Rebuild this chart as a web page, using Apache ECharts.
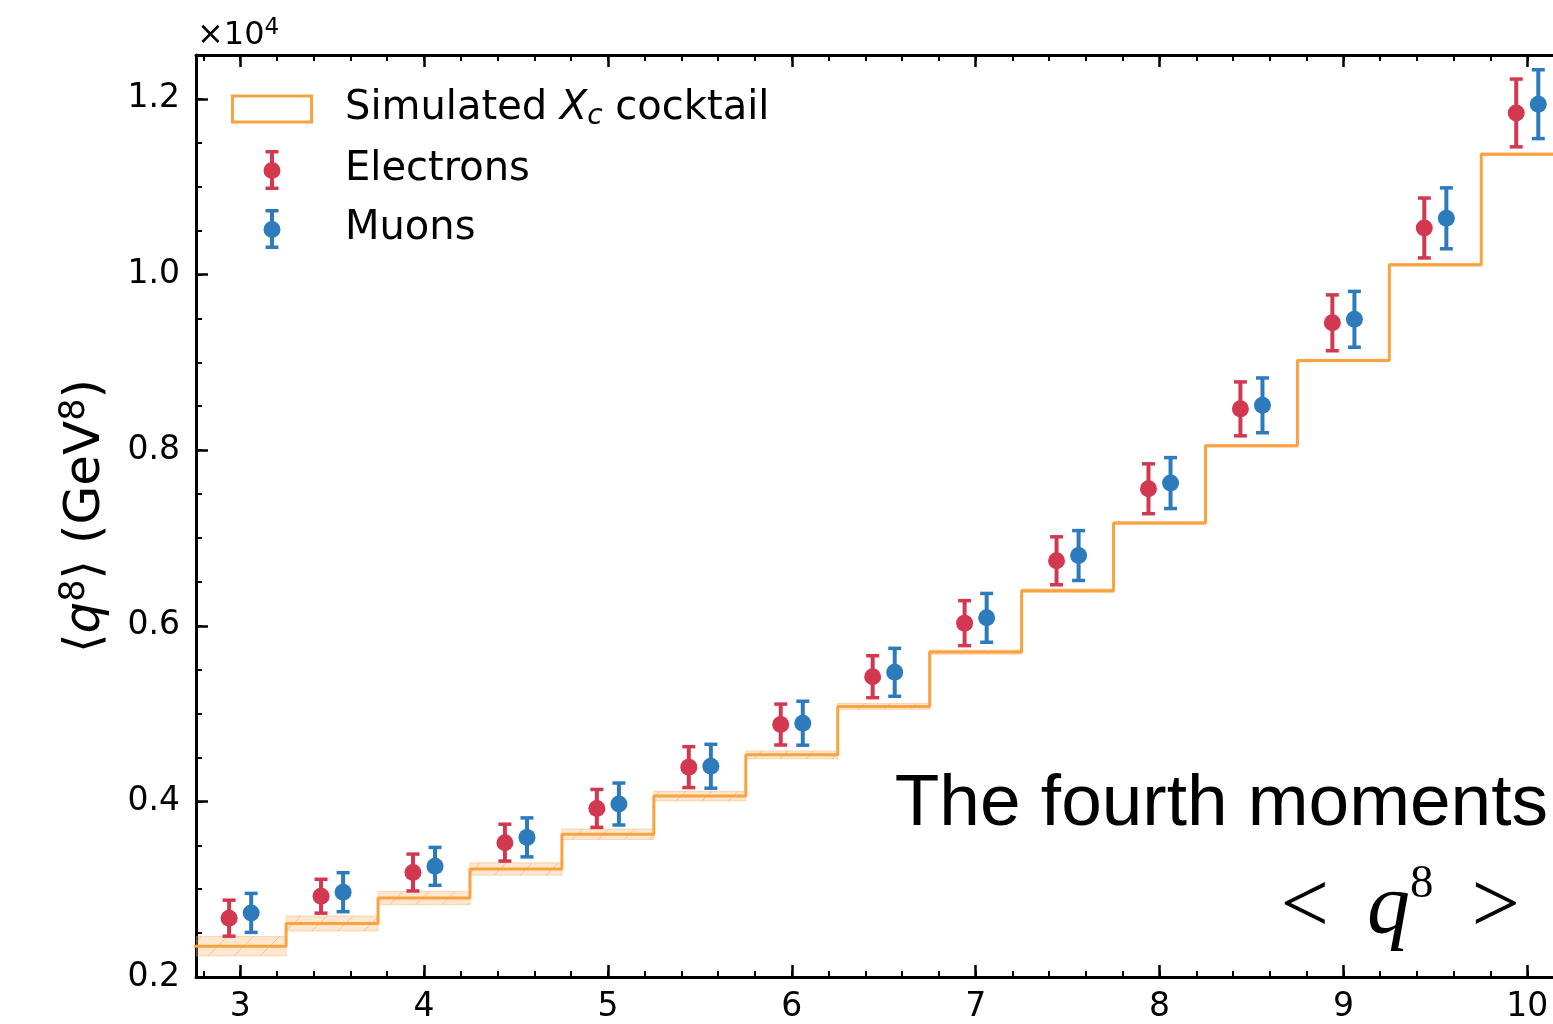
<!DOCTYPE html>
<html><head><meta charset="utf-8">
<script src="https://cdn.jsdelivr.net/npm/echarts@6/dist/echarts.min.js"></script>
<style>html,body{margin:0;padding:0;background:#fff}#c{width:1553px;height:1024px}</style>
</head><body><div id="c"></div>
<script>
// ---- data ----
const binCenters = [3,3.5,4,4.5,5,5.5,6,6.5,7,7.5,8,8.5,9,9.5,10];
const binHalfWidth = 0.25;
const cocktail    = [2350,2610,2900,3230,3625,4060,4530,5080,5700,6400,7170,8050,9020,10110,11370];
const cocktailErr = [110,85,75,70,60,55,45,35,25,20,15,15,15,15,15];
const electrons    = [2670,2920,3190,3530,3920,4390,4875,5420,6030,6740,7560,8470,9450,10530,11840];
const electronsErr = [205,193,210,210,216,233,233,239,256,273,284,307,318,341,386];
const muons    = [2730,2966,3260,3590,3970,4400,4890,5470,6090,6800,7625,8510,9490,10640,11940];
const muonsErr = [222,222,216,222,239,250,250,273,278,284,290,312,318,347,392];
const xMajorTicks = [3,4,5,6,7,8,9,10];
const yMajorTicks = [2000,4000,6000,8000,10000,12000];
const pointOffset = 0.06;

// ---- styles ----
const ORANGE = '#f9a240';
const RED = '#d2384f';
const BLUE = '#2d7bbd';
const FONT = 'DejaVu Sans';
const X_MIN = 2.76, X_MAX = 10.14, Y_MIN = 2000, Y_MAX = 12500;

const xMinorTicks = [];
for (let k = 14; k <= 50; k++) xMinorTicks.push(Math.round(k * 2) / 10);
const yMinorTicks = [];
for (let v = 2000; v <= 12500; v += 500) yMinorTicks.push(v);

function xAxisDef(position, ticks, len, width, showLine, showLabel) {
  return {
    type: 'value', position, min: X_MIN, max: X_MAX, gridIndex: 0,
    splitLine: { show: false },
    axisLine: { show: showLine, onZero: false, lineStyle: { color: '#000', width: 3 } },
    axisTick: { show: true, inside: true, length: len, customValues: ticks, lineStyle: { color: '#000', width: width } },
    axisLabel: showLabel ? { show: true, customValues: xMajorTicks, margin: 14, color: '#000', fontFamily: FONT, fontSize: 33,
      formatter: v => String(Math.round(v)) } : { show: false },
    minorTick: { show: false }
  };
}
function yAxisDef(ticks, len, width, showLine, showLabel) {
  const a = {
    type: 'value', position: 'left', min: Y_MIN, max: Y_MAX, gridIndex: 0,
    splitLine: { show: false },
    axisLine: { show: showLine, onZero: false, lineStyle: { color: '#000', width: 3 } },
    axisTick: { show: true, inside: true, length: len, customValues: ticks, lineStyle: { color: '#000', width: width } },
    axisLabel: showLabel ? { show: true, customValues: yMajorTicks, margin: 16, color: '#000', fontFamily: FONT, fontSize: 33,
      formatter: v => (v / 10000).toFixed(1) } : { show: false }
  };
  if (showLabel) {
    a.name = '{n|⟨}{i|q}{s|8}{n|⟩ (GeV}{s|8}{n|)}';
    a.nameLocation = 'middle';
    a.nameRotate = 90;
    a.nameGap = 80;
    a.nameTextStyle = { color: '#000', fontFamily: FONT, fontSize: 50,
      rich: { n: { fontFamily: FONT, fontSize: 50, color: '#000' },
              i: { fontFamily: FONT, fontSize: 50, fontStyle: 'italic', color: '#000' },
              s: { fontFamily: FONT, fontSize: 35, color: '#000', padding: [0, 0, 24, 0] } } };
  }
  return a;
}

const stepData = binCenters.map((c, i) => [c - binHalfWidth, cocktail[i]]);
stepData.push([binCenters[binCenters.length - 1] + binHalfWidth, cocktail[cocktail.length - 1]]);

function errSeries(name, vals, errs, color, off) {
  return {
    type: 'custom', name, z: 5, clip: true,
    itemStyle: { color },
    encode: { x: 0, y: 1 },
    data: binCenters.map((c, i) => [c + off, vals[i], errs[i]]),
    renderItem: (params, api) => {
      const x = api.value(0), y = api.value(1), e = api.value(2);
      const c = api.coord([x, y]), t = api.coord([x, y + e]), b = api.coord([x, y - e]);
      return { type: 'group', children: [
        { type: 'line', shape: { x1: c[0], y1: t[1], x2: c[0], y2: b[1] }, style: { stroke: color, lineWidth: 4 } },
        { type: 'line', shape: { x1: c[0] - 6.5, y1: t[1], x2: c[0] + 6.5, y2: t[1] }, style: { stroke: color, lineWidth: 3.5 } },
        { type: 'line', shape: { x1: c[0] - 6.5, y1: b[1], x2: c[0] + 6.5, y2: b[1] }, style: { stroke: color, lineWidth: 3.5 } },
        { type: 'circle', shape: { cx: c[0], cy: c[1], r: 8.5 }, style: { fill: color } }
      ]};
    }
  };
}

const bandSeries = {
  type: 'custom', name: 'band', z: 2, clip: true,
  encode: { x: [0, 1], y: 2 },
  data: binCenters.map((c, i) => [c - binHalfWidth, c + binHalfWidth, cocktail[i], cocktailErr[i]]),
  renderItem: (params, api) => {
    const x0 = api.value(0), x1 = api.value(1), v = api.value(2), e = api.value(3);
    const tl = api.coord([x0, v + e]), br = api.coord([x1, v - e]);
    const cs = params.coordSys;
    const left = Math.max(tl[0], cs.x), right = Math.min(br[0], cs.x + cs.width);
    const top = tl[1], bot = br[1], h = bot - top;
    const children = [{ type: 'rect', shape: { x: left, y: top, width: right - left, height: h },
      style: { fill: 'rgba(251,170,90,0.28)', stroke: 'rgba(251,170,90,0.4)', lineWidth: 1 } }];
    const s = 26;
    for (let k = Math.floor((left - h) / s) * s; k < right; k += s) {
      const t0 = Math.max(0, left - k), t1 = Math.min(h, right - k);
      if (t1 > t0) children.push({ type: 'line', shape: { x1: k + t0, y1: bot - t0, x2: k + t1, y2: bot - t1 },
        style: { stroke: 'rgba(249,150,60,0.5)', lineWidth: 1 } });
    }
    return { type: 'group', children };
  }
};

const EB_ICON = 'path://M0,0 M82,40 M34.5,0 H47.5 V3.5 H34.5 Z M39,0 H43 V40 H39 Z M34.5,36.5 H47.5 V40 H34.5 Z M49.5,20.5 A8.5,8.5 0 1,1 32.5,20.5 A8.5,8.5 0 1,1 49.5,20.5 Z';
const RECT_ICON = 'path://M0,0 M82,40 M0,5.5 H82 V34.5 H0 Z M3,8.5 V31.5 H79 V8.5 Z';

const chart = echarts.init(document.getElementById('c'), null, { renderer: 'canvas' });
chart.setOption({
  backgroundColor: '#fff',
  animation: false,
  grid: { left: 196, right: 0, top: 55, bottom: 43, containLabel: false },
  xAxis: [
    xAxisDef('bottom', xMajorTicks, 12, 2.5, true, true),
    xAxisDef('bottom', xMinorTicks, 6, 2, false, false),
    xAxisDef('top', xMajorTicks, 12, 2.5, true, false),
    xAxisDef('top', xMinorTicks, 6, 2, false, false)
  ],
  yAxis: [
    yAxisDef(yMajorTicks, 12, 2.5, true, true),
    yAxisDef(yMinorTicks, 6, 2, false, false)
  ],
  legend: {
    orient: 'vertical', left: 231, top: 89, padding: 0,
    itemWidth: 82, itemHeight: 40, itemGap: 19, selectedMode: false,
    textStyle: { fontFamily: FONT, fontSize: 40, color: '#000', lineHeight: 40,
      rich: { g: { width: 27 },
              i: { fontFamily: FONT, fontSize: 40, fontStyle: 'italic', color: '#000' },
              sub: { fontFamily: FONT, fontSize: 28, fontStyle: 'italic', color: '#000', padding: [16, 0, 0, 0] } } },
    formatter: name => name === 'cocktail' ? '{g| }Simulated {i|X}{sub|c} cocktail' : '{g| }' + name,
    data: [
      { name: 'cocktail', icon: RECT_ICON, itemStyle: { color: ORANGE, borderWidth: 0 } },
      { name: 'Electrons', icon: EB_ICON, itemStyle: { color: RED, borderWidth: 0 } },
      { name: 'Muons', icon: EB_ICON, itemStyle: { color: BLUE, borderWidth: 0 } }
    ]
  },
  graphic: [
    { type: 'text', x: 197, y: 36, style: { text: '×10{s|4}', fill: '#000', fontFamily: FONT, fontSize: 32, verticalAlign: 'middle',
      rich: { s: { fontFamily: FONT, fontSize: 23, fill: '#000', padding: [0, 0, 15, 0] } } } },
    { type: 'text', x: 1548, y: 805, style: { text: 'The fourth moments', fill: '#000', fontFamily: 'Liberation Sans', fontSize: 73,
      align: 'right', verticalAlign: 'middle' } },
    { type: 'text', x: 1520, y: 909, style: { text: '{n|<}{sp| }{i|q}{s|8}{sp| }{n|>}', fill: '#000', align: 'right', verticalAlign: 'middle',
      fontFamily: 'Liberation Serif', fontSize: 86,
      rich: { n: { fontFamily: 'Liberation Serif', fontSize: 86, fill: '#000' },
              sp: { fontFamily: 'Liberation Serif', fontSize: 86, width: 38 },
              i: { fontFamily: 'Liberation Serif', fontSize: 86, fontStyle: 'italic', fill: '#000' },
              s: { fontFamily: 'Liberation Serif', fontSize: 47, fill: '#000', padding: [0, 0, 48, 0] } } } }
  ],
  series: [
    bandSeries,
    { type: 'line', name: 'cocktail', step: 'end', data: stepData, symbol: 'none', showSymbol: false, clip: true, z: 3,
      lineStyle: { color: ORANGE, width: 3 }, itemStyle: { color: ORANGE } },
    errSeries('Electrons', electrons, electronsErr, RED, -pointOffset),
    errSeries('Muons', muons, muonsErr, BLUE, pointOffset)
  ]
});
</script>
</body></html>
